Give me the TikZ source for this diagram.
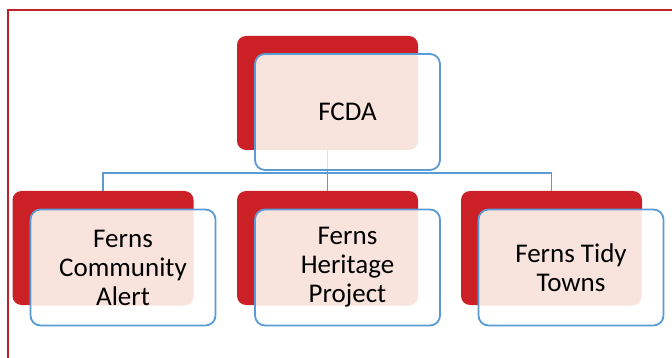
\documentclass[tikz,border=0pt]{standalone}
\usepackage{fontspec}
\setmainfont{Carlito}
\usepackage{tikz}

\definecolor{boxred}{RGB}{204,32,39}
\definecolor{boxblue}{RGB}{91,155,213}
\definecolor{frame}{RGB}{190,35,45}
\definecolor{peach}{RGB}{248,228,220}

\tikzset{
  back/.style={fill=boxred,rounded corners=9pt,minimum width=181pt,minimum height=114pt,inner sep=0},
  front/.style={draw=boxblue,line width=1.8pt,fill=white,
    path picture={\fill[peach,rounded corners=9pt]
      ([shift={(-18pt,18pt)}]path picture bounding box.north west) rectangle
      ([shift={(-22pt,20pt)}]path picture bounding box.south east);},
    rounded corners=10pt,minimum width=185pt,minimum height=116pt,inner sep=0,align=center,
    font=\fontsize{27}{29}\selectfont,text=black},
  link/.style={draw=boxblue,line width=1.8pt}
}

\begin{document}
\begin{tikzpicture}[x=1pt,y=-1pt]
        \useasboundingbox (0,0) rectangle (672,358);
        \draw[frame,line width=1.5pt] (680,10) -- (8,10) -- (8,370);
        % red backs
        \node[back] (fcda-b) at (327.5,93) {};
        \node[back] (alert-b) at (103,248) {};
        \node[back] (heritage-b) at (327.5,248) {};
        \node[back] (towns-b) at (551.5,248) {};
        % tree lines
        \coordinate (bus) at (0,173);
        \draw[link] (fcda-b.south) -- (fcda-b.south |- bus);
        \draw[link] (alert-b.north) -- (alert-b.north |- bus) -- (towns-b.north |- bus) -- (towns-b.north);
        \draw[link] (heritage-b.north) -- (heritage-b.north |- bus);
        % front boxes
        \node[front] (fcda) at (347.5,112) {FCDA};
        \node[front] (alert) at (123,267.5) {Ferns\\Community\\Alert};
        \node[front] (heritage) at (347.5,267.5) {Ferns\\Heritage\\Project};
        \node[front] (towns) at (571,267.5) {Ferns Tidy\\Towns};
        \draw[link,draw opacity=0.25] (fcda-b.south) -- ([yshift=2pt]fcda-b.south |- fcda.south);
      \end{tikzpicture}
\end{document}
